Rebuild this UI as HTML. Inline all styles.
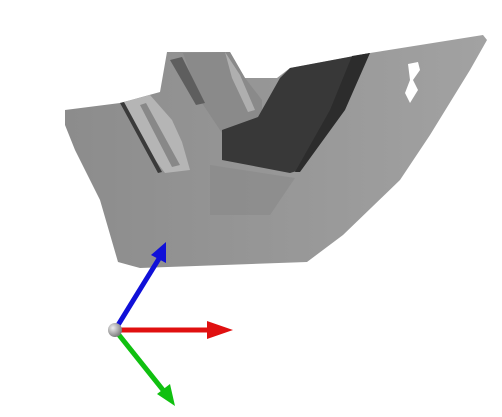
<!DOCTYPE html>
<html><head><meta charset="utf-8"><style>html,body{margin:0;padding:0;background:#fff}svg{display:block}</style></head>
<body>
<svg width="502" height="417" viewBox="0 0 502 417">
<defs>
<linearGradient id="pg" x1="0" y1="0" x2="1" y2="0">
<stop offset="0" stop-color="#8c8c8c"/><stop offset="0.6" stop-color="#999"/><stop offset="1" stop-color="#a2a2a2"/></linearGradient>
<radialGradient id="sph" cx="0.35" cy="0.35" r="0.7"><stop offset="0" stop-color="#eee"/><stop offset="1" stop-color="#777"/></radialGradient>
</defs>
<g>
<polygon fill="url(#pg)" points="65,110 120,103 160,92 167,52 230,52 245,78 277,78 290,68 370,53 483,35 487,40 470,70 430,135 400,180 343,235 307,262 140,268 118,262 100,200 75,150 65,125"/>
<polygon fill="#b5b5b5" points="120,103 150,95 172,120 182,142 190,170 165,173 140,140"/>
<polygon fill="#3a3a3a" points="120,103 124,102 162,172 158,173"/>
<polygon fill="#6a6a6a" opacity="0.6" points="140,105 146,103 180,165 172,167"/>
<polygon fill="#8a8a8a" points="183,53 230,52 245,78 262,100 262,118 222,133 200,100"/>
<polygon fill="#5e5e5e" points="170,60 182,57 205,103 196,105"/>
<polygon fill="#c8c8c8" opacity="0.6" points="225,52 240,75 255,110 248,112 232,78"/>
<polygon fill="#383838" points="290,68 370,53 362,60 340,110 300,170 290,173 222,160 222,130 258,117 280,78"/>
<polygon fill="#2c2c2c" points="352,56 370,53 345,110 300,172 295,172 330,110"/>
<polygon fill="#888" opacity="0.6" points="210,165 295,178 270,215 210,215"/>
<polygon fill="#fff" points="408,64 418,62 420,70 413,80 418,90 410,103 405,93 410,80"/>
</g>
<g>
<line x1="115" y1="330" x2="160" y2="257" stroke="#1010d8" stroke-width="5"/>
<polygon fill="#1010d8" points="166,242 151,255 166,263"/>
<line x1="115" y1="330" x2="210" y2="330" stroke="#e01010" stroke-width="5"/>
<polygon fill="#e01010" points="233,330 207,321 207,339"/>
<line x1="115" y1="330" x2="163" y2="390" stroke="#10c010" stroke-width="5"/>
<polygon fill="#10c010" points="175,406 157,394 170,384"/>
<circle cx="115" cy="330" r="7" fill="url(#sph)"/>
</g>
</svg>
</body></html>
